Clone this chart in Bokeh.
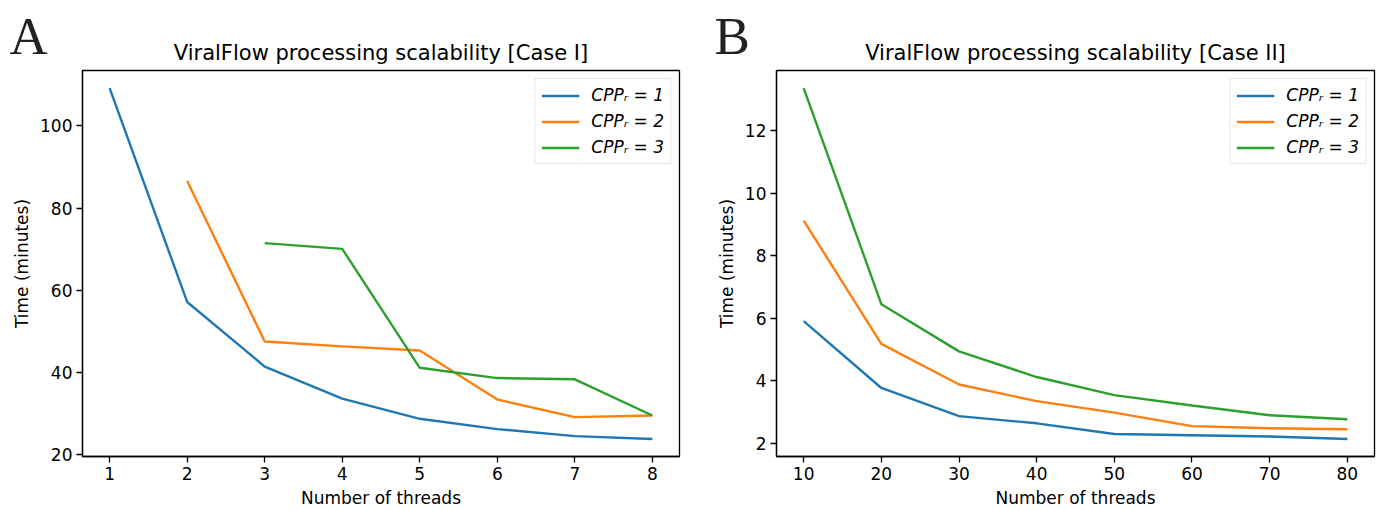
from bokeh.plotting import figure
from bokeh.layouts import row, column
from bokeh.models import FixedTicker, Range1d, Label
from bokeh.embed import file_html
from bokeh.resources import INLINE

# ---- data ----
series_labels = ["CPPᵣ = 1", "CPPᵣ = 2", "CPPᵣ = 3"]
colors = ["#1f77b4", "#ff7f0e", "#2ca02c"]

# Case I
threads_a1 = [1, 2, 3, 4, 5, 6, 7, 8]
time_a1 = [109.2, 57.2, 41.5, 33.7, 28.8, 26.3, 24.6, 23.9]
threads_a2 = [2, 3, 4, 5, 6, 7, 8]
time_a2 = [86.6, 47.6, 46.4, 45.4, 33.5, 29.2, 29.6]
threads_a3 = [3, 4, 5, 6, 7, 8]
time_a3 = [71.5, 70.1, 41.2, 38.7, 38.4, 29.6]
xticks_a = [1, 2, 3, 4, 5, 6, 7, 8]
yticks_a = [20, 40, 60, 80, 100]

# Case II
threads_b = [10, 20, 30, 40, 50, 60, 70, 80]
time_b1 = [5.91, 3.77, 2.87, 2.64, 2.30, 2.26, 2.22, 2.14]
time_b2 = [9.12, 5.18, 3.88, 3.35, 2.98, 2.55, 2.48, 2.45]
time_b3 = [13.36, 6.45, 4.94, 4.12, 3.54, 3.21, 2.90, 2.77]
xticks_b = [10, 20, 30, 40, 50, 60, 70, 80]
yticks_b = [2, 4, 6, 8, 10, 12]

titles = ["ViralFlow processing scalability [Case I]",
          "ViralFlow processing scalability [Case II]"]
letters = ["A", "B"]

TOTAL_W = 1381
STRIP_H = 68
FRAME_H = 387
PANEL_H = 442
W_A, BL_A, BR_A = 697, 82, 18
W_B, BL_B, BR_B = 684, 79, 7


def padded(vals, frac=0.05):
    lo, hi = min(vals), max(vals)
    d = (hi - lo) * frac
    return lo - d, hi + d


def make_panel(xs_list, ys_list, xticks, yticks, width, border_left, border_right):
    allx = [v for xs in xs_list for v in xs]
    ally = [v for ys in ys_list for v in ys]
    x0, x1 = padded(allx)
    y0, y1 = padded(ally)
    p = figure(width=width, height=PANEL_H, output_backend="svg",
               toolbar_location=None, x_range=Range1d(x0, x1),
               y_range=Range1d(y0, y1),
               min_border_left=border_left, min_border_right=border_right,
               min_border_top=PANEL_H - FRAME_H - 53, min_border_bottom=53)
    for xs, ys, c, lab in zip(xs_list, ys_list, colors, series_labels):
        p.line(xs, ys, line_color=c, line_width=2.4, legend_label=lab)

    p.xgrid.visible = False
    p.ygrid.visible = False
    p.outline_line_color = "#000000"
    p.outline_line_width = 1.3
    p.outline_line_alpha = 1

    for ax in (p.xaxis[0], p.yaxis[0]):
        ax.major_label_text_font = "DejaVu Sans"
        ax.major_label_text_font_size = "17px"
        ax.major_label_text_color = "#000000"
        ax.axis_label_text_font = "DejaVu Sans"
        ax.axis_label_text_font_size = "17px"
        ax.axis_label_text_font_style = "normal"
        ax.axis_label_text_color = "#000000"
        ax.major_tick_in = 0
        ax.major_tick_out = 6
        ax.minor_tick_in = 0
        ax.minor_tick_out = 0
        ax.axis_line_color = "#000000"
        ax.axis_line_width = 1.3
        ax.major_tick_line_color = "#000000"
        ax.major_tick_line_width = 1.3
        ax.major_label_standoff = 4
        ax.axis_label_standoff = 5

    p.xaxis.ticker = FixedTicker(ticks=xticks)
    p.yaxis.ticker = FixedTicker(ticks=yticks)
    p.xaxis.axis_label = "Number of threads"
    p.yaxis.axis_label = "Time (minutes)"

    lg = p.legend[0]
    lg.location = "top_right"
    lg.margin = 8
    lg.padding = 6
    lg.spacing = 6
    lg.glyph_width = 38
    lg.glyph_height = 19
    lg.label_height = 19
    lg.label_standoff = 12
    lg.label_text_font = "DejaVu Sans"
    lg.label_text_font_size = "17px"
    lg.label_text_font_style = "italic"
    lg.label_text_color = "#000000"
    lg.border_line_color = "#cccccc"
    lg.border_line_width = 1
    lg.background_fill_alpha = 0.8
    return p


# ---- header strip with panel letters and titles ----
strip = figure(width=TOTAL_W, height=STRIP_H, output_backend="svg",
               toolbar_location=None, x_axis_location=None,
               y_axis_location=None, x_range=Range1d(0, 1), y_range=Range1d(0, 1),
               min_border_left=0, min_border_right=0, min_border_top=0,
               min_border_bottom=0)
strip.xgrid.visible = False
strip.ygrid.visible = False
strip.outline_line_color = None

frame_centers = [BL_A + (W_A - BL_A - BR_A) / 2,
                 W_A + BL_B + (W_B - BL_B - BR_B) / 2]
letter_x = [9, 714]
for t, lt, cx, lx in zip(titles, letters, frame_centers, letter_x):
    # screen y measured upward from the strip's bottom edge; texts centred on y
    strip.add_layout(Label(x=cx, y=STRIP_H - 52, x_units="screen", y_units="screen",
                           text=t, text_font="DejaVu Sans", text_font_size="21px",
                           text_align="center", text_baseline="middle",
                           text_color="#000000"))
    strip.add_layout(Label(x=lx, y=STRIP_H - 35, x_units="screen", y_units="screen",
                           text=lt, text_font="Liberation Serif",
                           text_font_size="53px", text_align="left",
                           text_baseline="middle", text_color="#222222"))

pa = make_panel([threads_a1, threads_a2, threads_a3], [time_a1, time_a2, time_a3],
                xticks_a, yticks_a, W_A, BL_A, BR_A)
pb = make_panel([threads_b, threads_b, threads_b], [time_b1, time_b2, time_b3],
                xticks_b, yticks_b, W_B, BL_B, BR_B)

layout = column(strip, row(pa, pb))
open("out.html", "w").write(file_html(layout, INLINE))
